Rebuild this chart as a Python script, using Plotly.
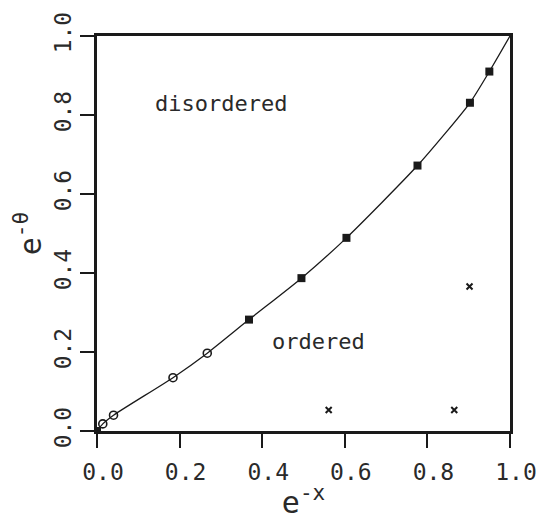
import plotly.graph_objects as go

# phase boundary data
circle_x = [0.014, 0.040, 0.184, 0.267]
circle_y = [0.018, 0.040, 0.135, 0.197]
square_x = [0.0, 0.368, 0.495, 0.604, 0.776, 0.903, 0.950]
square_y = [0.0, 0.282, 0.387, 0.489, 0.672, 0.831, 0.910]
cross_x = [0.561, 0.865, 0.902]
cross_y = [0.053, 0.053, 0.366]
end_x = [1.0]
end_y = [1.0]

tick_vals = [0.0, 0.2, 0.4, 0.6, 0.8, 1.0]
tick_text = ["0.0", "0.2", "0.4", "0.6", "0.8", "1.0"]

pts = sorted(zip(circle_x + square_x + end_x, circle_y + square_y + end_y))
line_x = [p[0] for p in pts]
line_y = [p[1] for p in pts]

FONT = "DejaVu Sans Mono"
INK = "#1a1a1a"
TXT = "#2a2a2a"

fig = go.Figure()
fig.add_trace(go.Scatter(x=line_x, y=line_y, mode="lines",
                         line=dict(color=INK, width=1.3, shape="spline", smoothing=0.6),
                         hoverinfo="skip", showlegend=False))
fig.add_trace(go.Scatter(x=circle_x, y=circle_y, mode="markers",
                         marker=dict(symbol="circle-open", size=8, color=INK, line=dict(width=1.6)),
                         showlegend=False))
fig.add_trace(go.Scatter(x=square_x, y=square_y, mode="markers",
                         marker=dict(symbol="square", size=8, color=INK),
                         showlegend=False))
fig.add_trace(go.Scatter(x=cross_x, y=cross_y, mode="markers",
                         marker=dict(symbol="x-thin", size=6, color=INK, line=dict(width=2, color=INK)),
                         showlegend=False))

axis_common = dict(range=[0, 1], tickvals=tick_vals, ticktext=tick_text,
                   showgrid=False, zeroline=False, showline=True, mirror=True,
                   linecolor=INK, linewidth=3, ticks="outside", ticklen=14,
                   tickwidth=1.5, tickcolor=INK,
                   tickfont=dict(family=FONT, size=23, color=TXT))

fig.update_xaxes(**axis_common, ticklabelshift=6, ticklabelstandoff=4,
                 title=dict(text="e<sup>-x</sup>", font=dict(family=FONT, size=30, color=TXT), standoff=2))
fig.update_yaxes(**axis_common, tickangle=-90,
                 title=dict(text="e<sup>-θ</sup>", font=dict(family=FONT, size=30, color=TXT), standoff=0))

fig.add_annotation(x=0.30, y=0.83, xref="x", yref="y", text="disordered", showarrow=False,
                   font=dict(family=FONT, size=22, color=TXT))
fig.add_annotation(x=0.536, y=0.227, xref="x", yref="y", text="ordered", showarrow=False,
                   font=dict(family=FONT, size=22, color=TXT))

fig.update_layout(width=549, height=520, margin=dict(l=97, r=34, t=30, b=83),
                  paper_bgcolor="white", plot_bgcolor="white")

fig.write_html("out.html")
